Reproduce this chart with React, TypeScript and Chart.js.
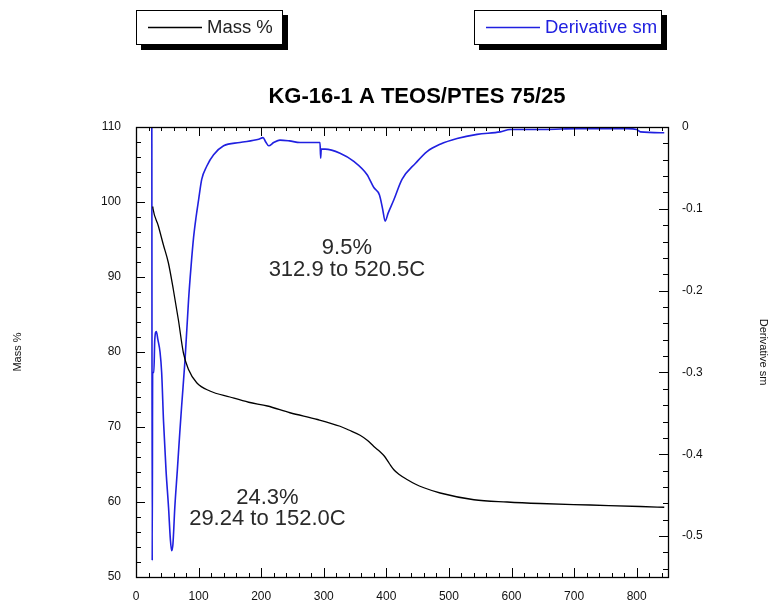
import React, { useEffect, useRef } from "react";
import { Chart, registerables } from "chart.js";

Chart.register(...registerables);

const FONT = '"Liberation Sans", Arial, Helvetica, sans-serif';
const BLUE = "#2020e0";

// Mass loss curve (temperature in C, mass in %)
const MASS_TEMP = [
  26.8, 27.2, 35.7, 43.7, 51.7, 59.7, 67.7, 75.7, 83.7, 97, 118, 150, 180, 210,
  246, 290, 326, 340, 358, 370, 380, 390, 397, 405, 412, 420, 433, 446, 460, 486,
  540, 593, 646, 726, 806, 844,
];
const MASS_PCT = [
  99.4, 99.1, 96.8, 94.3, 91.9, 88.3, 84.3, 79.9, 77.7, 75.9, 74.8, 74.0, 73.3,
  72.8, 71.9, 71.0, 70.1, 69.6, 68.9, 68.2, 67.4, 66.7, 66.1, 65.1, 64.3, 63.7,
  63.0, 62.4, 61.9, 61.2, 60.3, 60.0, 59.8, 59.6, 59.4, 59.3,
];

// Smoothed derivative curve (temperature in C, derivative value)
const DERIV_TEMP = [
  25.3, 25.9, 26.6, 28.5, 30, 32.5, 35, 38.4, 41, 44, 48, 52, 55, 57, 59, 62,
  66, 70, 73, 78.4, 84, 88, 92, 96, 100, 105, 113, 124, 140, 166, 196, 203, 207,
  212, 220, 230, 245, 262, 284, 294, 295, 296, 302, 326, 348, 369, 380, 389, 394,
  398, 403, 412, 425, 447, 465, 486, 513, 545, 582, 598, 652, 705, 785, 800, 806,
  838, 844,
];
const DERIV_VAL = [
  0.0, -0.53, -0.3, -0.3, -0.26, -0.25, -0.26, -0.275, -0.3, -0.36, -0.42,
  -0.465, -0.505, -0.518, -0.51, -0.465, -0.42, -0.373, -0.34, -0.284, -0.211,
  -0.17, -0.135, -0.11, -0.089, -0.064, -0.048, -0.034, -0.023, -0.019, -0.015,
  -0.013, -0.018, -0.023, -0.019, -0.016, -0.017, -0.019, -0.019, -0.019,
  -0.038, -0.027, -0.027, -0.032, -0.042, -0.058, -0.074, -0.083, -0.1, -0.115,
  -0.105, -0.089, -0.064, -0.044, -0.03, -0.021, -0.014, -0.009, -0.006, -0.003,
  -0.003, -0.002, -0.002, -0.003, -0.006, -0.007, -0.007,
];

// Axis ticks
const X_TICKS = [0, 100, 200, 300, 400, 500, 600, 700, 800];
const MASS_TICKS = [50, 60, 70, 80, 90, 100, 110];
const DERIV_TICKS = [0, -0.1, -0.2, -0.3, -0.4, -0.5];

const TITLE = "KG-16-1 A TEOS/PTES 75/25";

// Step annotations, placed in temperature / mass coordinates
const NOTE_TEMP = [337, 337, 210, 210];
const NOTE_MASS = [93.9, 91.0, 60.5, 57.7];
const NOTE_TEXT = ["9.5%", "312.9 to 520.5C", "24.3%", "29.24 to 152.0C"];

const decorPlugin = {
  id: "decor",
  afterDraw(chart: any) {
    const { ctx, chartArea: a, scales } = chart;
    const sx = scales.x;
    const sy = scales.y;
    const sd = scales.y1;
    const L = Math.round(a.left);
    const R = Math.round(a.right);
    const T = Math.round(a.top);
    const B = Math.round(a.bottom);

    ctx.save();
    ctx.strokeStyle = "#000";
    ctx.lineWidth = 1;

    // tick marks pointing inward
    ctx.beginPath();
    for (let k = 0; k * 20 <= sx.max; k++) {
      const px = Math.round(sx.getPixelForValue(k * 20)) + 0.5;
      const len = k % 5 === 0 ? 9 : 4;
      ctx.moveTo(px, B);
      ctx.lineTo(px, B - len);
      ctx.moveTo(px, T);
      ctx.lineTo(px, T + len);
    }
    for (let k = 0; 50 + k * 2 <= 110; k++) {
      const py = Math.round(sy.getPixelForValue(50 + k * 2)) + 0.5;
      const len = k % 5 === 0 ? 9 : 5;
      ctx.moveTo(L, py);
      ctx.lineTo(L + len, py);
    }
    for (let k = 0; k * 0.02 <= 0.55 + 1e-9; k++) {
      const py = Math.round(sd.getPixelForValue(-k * 0.02)) + 0.5;
      const len = k % 5 === 0 ? 9 : 5;
      ctx.moveTo(R, py);
      ctx.lineTo(R - len, py);
    }
    ctx.stroke();

    // plot frame
    ctx.lineWidth = 1.3;
    ctx.strokeRect(L + 0.5, T + 0.5, R - L, B - T);

    // title
    ctx.fillStyle = "#000";
    ctx.font = `bold 22px ${FONT}`;
    ctx.textAlign = "center";
    ctx.textBaseline = "middle";
    ctx.fillText(TITLE, (a.left + a.right) / 2 + 15, 97);

    // step annotations
    ctx.fillStyle = "#2a2a2a";
    ctx.font = `22px ${FONT}`;
    for (let i = 0; i < NOTE_TEXT.length; i++) {
      ctx.fillText(
        NOTE_TEXT[i],
        sx.getPixelForValue(NOTE_TEMP[i]),
        sy.getPixelForValue(NOTE_MASS[i])
      );
    }

    // legend boxes with drop shadows
    const box = (x: number, w: number, color: string, label: string) => {
      const y = 10;
      const h = 34;
      ctx.fillStyle = "#000";
      ctx.fillRect(x + 5, y + 5, w + 1, h + 1);
      ctx.fillStyle = "#fff";
      ctx.fillRect(x, y, w, h);
      ctx.strokeStyle = "#000";
      ctx.lineWidth = 1;
      ctx.strokeRect(x + 0.5, y + 0.5, w, h);
      ctx.strokeStyle = color;
      ctx.lineWidth = 1.3;
      ctx.beginPath();
      ctx.moveTo(x + 12, y + 17.5);
      ctx.lineTo(x + 66, y + 17.5);
      ctx.stroke();
      ctx.fillStyle = color === "#000" ? "#222" : color;
      ctx.font = `18.5px ${FONT}`;
      ctx.textAlign = "left";
      ctx.textBaseline = "middle";
      ctx.fillText(label, x + 71, y + 17.5);
    };
    box(136, 146, "#000", "Mass %");
    box(474, 187, BLUE, "Derivative sm");

    ctx.restore();
  },
};

export default function App() {
  const ref = useRef<HTMLCanvasElement | null>(null);

  useEffect(() => {
    if (!ref.current) return;
    const massData = MASS_TEMP.map((t, i) => ({ x: t, y: MASS_PCT[i] }));
    const derivData = DERIV_TEMP.map((t, i) => ({ x: t, y: DERIV_VAL[i] }));
    const tickFont = { family: FONT, size: 12 };

    const chart = new Chart(ref.current, {
      type: "scatter",
      data: {
        datasets: [
          {
            label: "Mass %",
            data: massData,
            yAxisID: "y",
            showLine: true,
            borderColor: "#000",
            borderWidth: 1.3,
            pointRadius: 0,
            cubicInterpolationMode: "monotone",
          },
          {
            label: "Derivative sm",
            data: derivData,
            yAxisID: "y1",
            showLine: true,
            borderColor: BLUE,
            borderWidth: 1.6,
            pointRadius: 0,
            cubicInterpolationMode: "monotone",
          },
        ],
      },
      options: {
        animation: false,
        responsive: false,
        layout: { padding: { top: 127, left: 0, right: 0, bottom: 0 } },
        plugins: {
          legend: { display: false },
          title: { display: false },
          tooltip: { enabled: false },
        },
        scales: {
          x: {
            type: "linear",
            position: "bottom",
            min: 0,
            max: 850,
            grid: { display: false, drawTicks: false },
            border: { display: false },
            afterBuildTicks: (s: any) => {
              s.ticks = X_TICKS.map((v) => ({ value: v }));
            },
            afterFit: (s: any) => {
              s.height = 29;
            },
            ticks: {
              font: tickFont,
              color: "#111",
              padding: 12,
              maxRotation: 0,
              autoSkip: false,
              callback: (v: any) => String(v),
            },
          },
          y: {
            type: "linear",
            position: "left",
            min: 50,
            max: 110,
            grid: { display: false, drawTicks: false },
            border: { display: false },
            afterBuildTicks: (s: any) => {
              s.ticks = MASS_TICKS.map((v) => ({ value: v }));
            },
            afterFit: (s: any) => {
              s.width = 136;
            },
            ticks: {
              font: tickFont,
              color: "#111",
              padding: 15,
              autoSkip: false,
              callback: (v: any) => String(v),
            },
            title: {
              display: true,
              text: "Mass %",
              font: { family: FONT, size: 11 },
              color: "#111",
              padding: { top: 11, bottom: 0 },
            },
          },
          y1: {
            type: "linear",
            position: "right",
            min: -0.55,
            max: 0,
            grid: { display: false, drawTicks: false },
            border: { display: false },
            afterBuildTicks: (s: any) => {
              s.ticks = DERIV_TICKS.map((v) => ({ value: v }));
            },
            afterFit: (s: any) => {
              s.width = 106;
            },
            ticks: {
              font: tickFont,
              color: "#111",
              padding: 14,
              autoSkip: false,
              callback: (v: any) => String(Math.round(v * 10) / 10),
            },
            title: {
              display: true,
              text: "Derivative sm",
              font: { family: FONT, size: 11 },
              color: "#111",
              padding: { top: 4, bottom: 0 },
            },
          },
        },
      },
      plugins: [decorPlugin],
    });

    return () => chart.destroy();
  }, []);

  return (
    <div
      style={{
        position: "fixed",
        left: 0,
        top: 0,
        width: 774,
        height: 606,
        background: "#fff",
      }}
    >
      <canvas ref={ref} width={774} height={606} style={{ display: "block" }} />
    </div>
  );
}
